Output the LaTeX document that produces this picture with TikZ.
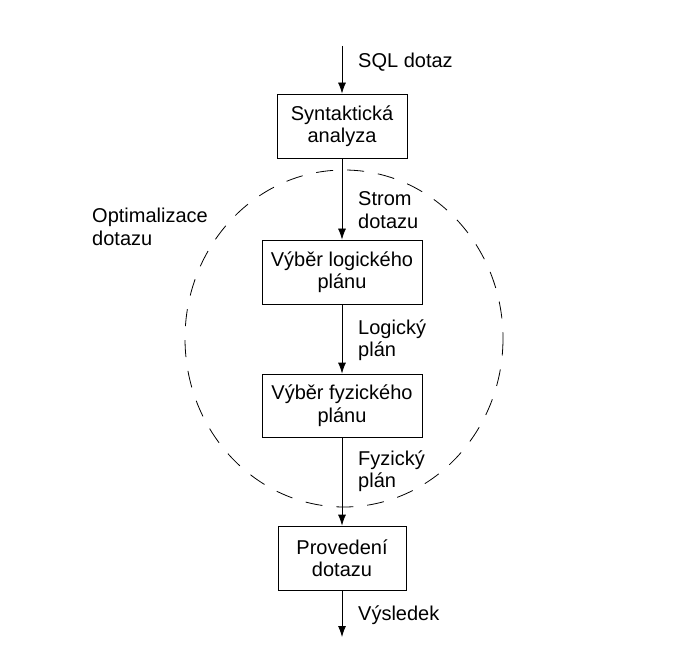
\documentclass[tikz,border=0pt]{standalone}
\usepackage{fontspec}
\setmainfont{Liberation Sans}
\usetikzlibrary{shapes,arrows,arrows.meta,positioning}

\begin{document}
\begin{tikzpicture}[x=1pt, y=-1pt, auto]
        \fontsize{20}{22.5}\selectfont
        \tikzstyle{block} = [rectangle, draw, line width=0.8pt, align=center, minimum height=64pt, inner sep=2pt]
        \tikzstyle{line} = [draw, line width=0.8pt, -{Latex[length=11pt, width=8pt]}]
        \tikzstyle{tag} = [align=left, anchor=west, inner sep=0pt]
        \tikzstyle{region} = [draw, line width=0.8pt, dash pattern=on 17pt off 14pt]

    \useasboundingbox (0,0) rectangle (686,663);

    \draw [region] (344,338.5) ellipse [x radius=159, y radius=168.5];
    \node [tag] (optimization) at (92,227) {Optimalizace\\dotazu};

    \coordinate (query) at (342,46);
    \node [block, minimum width=130pt] (syntax analysis) at (342,126) {Syntaktická\\analyza};
    \node [block, minimum width=160pt] (logical plan) at (342,272) {Výběr logického\\plánu};
    \node [block, minimum width=160pt, minimum height=63pt] (physical plan) at (342,405.5) {Výběr fyzického\\plánu};
    \node [block, minimum width=128pt] (execution) at (342,558) {Provedení\\dotazu};
    \coordinate (result) at (342,637);

    \path [line] (query) -- (syntax analysis);
    \path [line] (syntax analysis) -- (logical plan);
    \path [line] (logical plan) -- (physical plan);
    \path [line] (physical plan) -- (execution);
    \path [line] (execution) -- (result);

    \node [tag] (query label) at (358,62) {SQL dotaz};
    \node [tag] (tree label) at (358,210) {Strom\\dotazu};
    \node [tag] (logical label) at (358,340) {Logický\\plán};
    \node [tag] (physical label) at (358,471) {Fyzický\\plán};
    \node [tag] (result label) at (358,615) {Výsledek};
    \end{tikzpicture}
\end{document}
